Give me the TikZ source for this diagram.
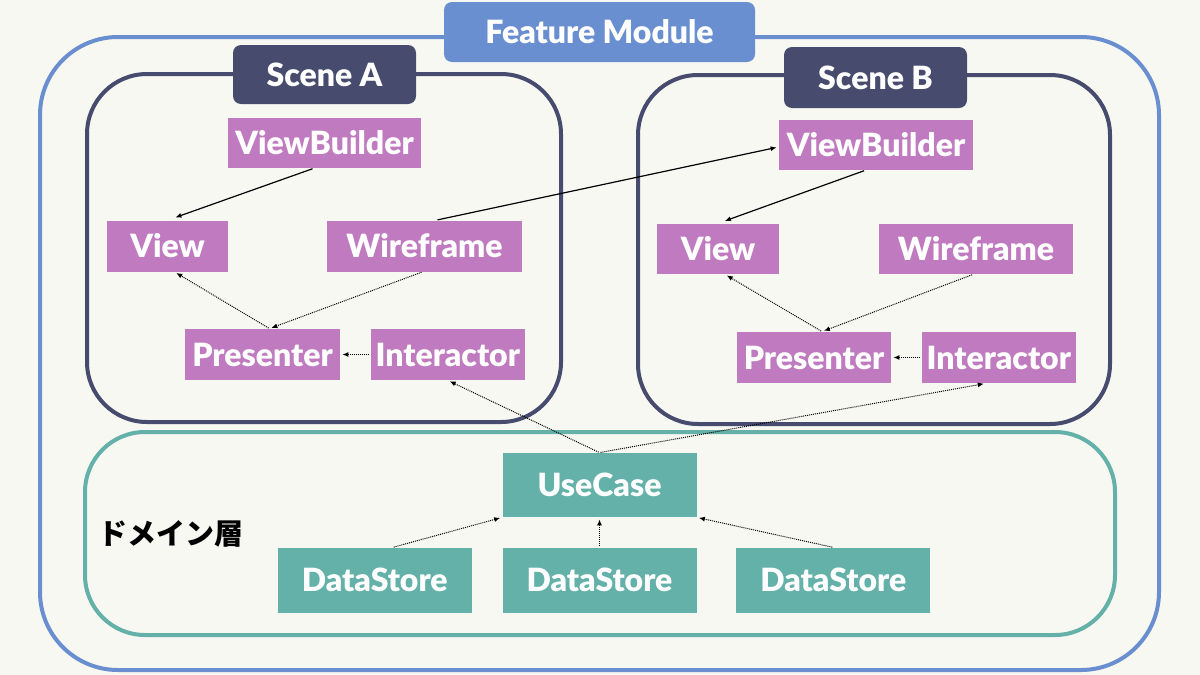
\documentclass[tikz,border=0pt]{standalone}
\usepackage{fontspec}
\setmainfont{Lato}[BoldFont={Lato Black}]
\newfontfamily\jpfont{Noto Sans CJK JP}
\usetikzlibrary{positioning,arrows.meta}
\definecolor{paper}{HTML}{F8F8F3}
\definecolor{modblue}{HTML}{6A8FD0}
\definecolor{scenenavy}{HTML}{474C6E}
\definecolor{domteal}{HTML}{63B1A8}
\definecolor{vippurple}{HTML}{C07BC0}
\tikzset{line/.style={draw, -{Latex[length=6pt,width=5pt]}, shorten <=1pt, shorten >=2pt}}

\begin{document}
\begin{tikzpicture}[x=1pt, y=-1pt, thick,
  vip/.style = {fill=vippurple, text=white, font=\bfseries\fontsize{32}{36}\selectfont, inner sep=0pt, minimum height=50pt},
  dom/.style = {fill=domteal, text=white, font=\bfseries\fontsize{32}{36}\selectfont, inner sep=0pt, minimum width=194pt, minimum height=64pt},
  tag/.style = {text=white, font=\bfseries\fontsize{32}{36}\selectfont, inner sep=0pt, rounded corners=8pt, minimum height=60pt},
  calls/.style = {line, line width=1.2pt},
  uses/.style = {line, line width=1pt, densely dotted}]
\useasboundingbox[fill=paper] (0,0) rectangle (1200,675);
\draw[modblue, line width=4pt, rounded corners=78pt] (40,37) rectangle (1159,670);
\draw[scenenavy, line width=4pt, rounded corners=60pt] (87,74) rectangle (561,422);
\draw[scenenavy, line width=4pt, rounded corners=60pt] (638,75) rectangle (1110,424);
\draw[domteal, line width=4pt, rounded corners=60pt] (85,432) rectangle (1115,635);
\node[tag, fill=modblue, minimum width=311pt] (fm) at (599.5,32) {Feature Module};
\node[tag, fill=scenenavy, minimum width=183pt, minimum height=59pt] (sa) at (324.5,74.5) {Scene A};
\node[tag, fill=scenenavy, minimum width=183pt, minimum height=61pt] (sb) at (875.5,77.5) {Scene B};
\node[vip, minimum width=193pt] (vba) at (324.5,143) {ViewBuilder};
\node[vip, minimum width=121pt, minimum height=51pt] (viewa) at (167.5,246) {View};
\node[vip, minimum width=195pt, minimum height=51pt] (wfa) at (424.5,246) {Wireframe};
\node[vip, minimum width=155pt, minimum height=51pt] (pra) at (262.5,354.5) {Presenter};
\node[vip, minimum width=154pt, minimum height=51pt] (ina) [right=30pt of pra] {Interactor};
\node[vip, minimum width=194pt] (vbb) at (876,145) {ViewBuilder};
\node[vip, minimum width=122pt] (viewb) at (718,249) {View};
\node[vip, minimum width=194pt] (wfb) at (976,249) {Wireframe};
\node[vip, minimum width=154pt, minimum height=51pt] (prb) at (814,357.5) {Presenter};
\node[vip, minimum width=154pt, minimum height=51pt] (inb) [right=30pt of prb] {Interactor};
\node[dom] (uc) at (599.5,485) {UseCase};
\node[dom, minimum height=65pt] (ds2) [below=30pt of uc] {DataStore};
\node[dom, minimum height=65pt] (ds1) [left=30pt of ds2] {DataStore};
\node[dom, minimum height=65pt] (ds3) [right=39pt of ds2] {DataStore};
\node[font=\jpfont\bfseries\fontsize{29}{32}\selectfont, inner sep=0pt] (dl) at (171,534) {ドメイン層};
\draw[calls] ([xshift=-11pt]vba.south) -- ([xshift=6pt,yshift=2pt]viewa.north);
\draw[calls] ([xshift=12pt]wfa.north) -- ([yshift=-2pt]vbb.west);
\draw[calls] ([xshift=-11pt]vbb.south) -- ([xshift=5pt,yshift=2pt]viewb.north);
\draw[uses] ([xshift=7pt]pra.north) -- ([xshift=7pt]viewa.south);
\draw[uses] ([xshift=-2pt]wfa.south) -- ([xshift=7pt]pra.north);
\draw[uses] (ina.west) -- (pra.east);
\draw[uses] ([xshift=8pt]prb.north) -- ([xshift=7pt]viewb.south);
\draw[uses] ([xshift=-3pt]wfb.south) -- ([xshift=8pt]prb.north);
\draw[uses] (inb.west) -- (prb.east);
\draw[uses] (uc.north) -- (ina.south);
\draw[uses] (uc.north) -- ([xshift=-13pt]inb.south);
\draw[uses] ([xshift=18pt]ds1.north) -- (uc.south west);
\draw[uses] (ds2.north) -- (uc.south);
\draw[uses] (ds3.north) -- (uc.south east);
\end{tikzpicture}
\end{document}
